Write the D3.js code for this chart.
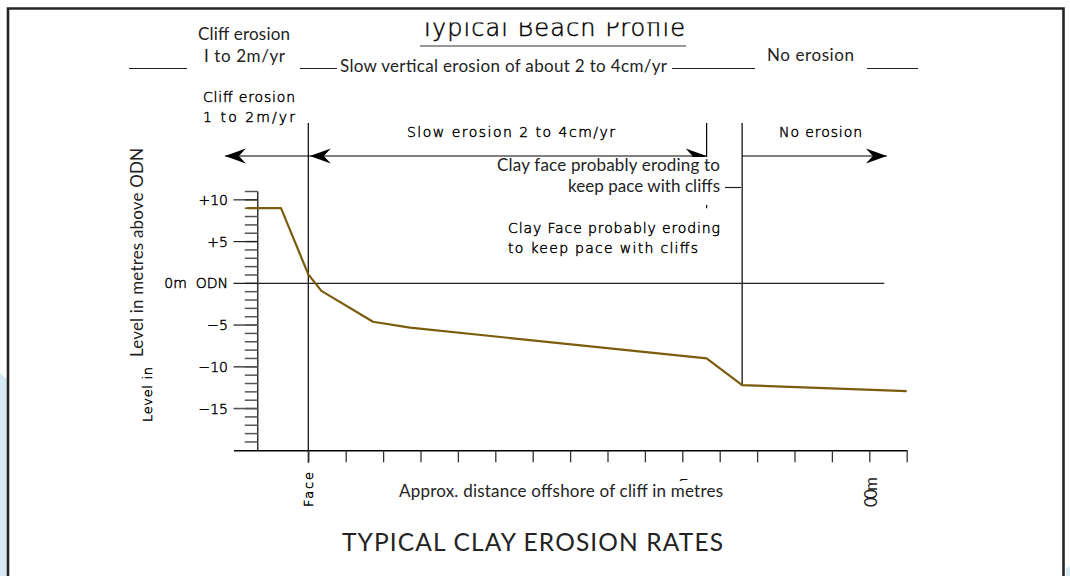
<!DOCTYPE html>
<html>
<head>
<meta charset="utf-8">
<script src="https://cdn.jsdelivr.net/npm/d3@7"></script>
<style>
  body { margin: 0; background: #fff; }
  svg { display: block; }
  .cad { font-family: "DejaVu Sans", sans-serif; font-weight: 200; fill: #000; stroke: #000; stroke-width: 0.45; }
  .gill { font-family: Lato, "Open Sans", sans-serif; fill: #232323; }
</style>
</head>
<body>
<div id="vis"></div>
<script>
// beach profile, distance in axis tick units (0 = cliff face), level in m above ODN
var distance = [-1.64, -0.73, 0.0, 0.35, 1.73, 2.72, 10.65, 11.6, 16.0];
var level    = [9.0, 9.0, 1.08, -0.9, -4.6, -5.3, -9.0, -12.2, -12.9];

var xTicks = [0, 1, 2, 3, 4, 5, 6, 7, 8, 9, 10, 11, 12, 13, 14, 15, 16];
var yMajor = [10, 5, 0, -5, -10, -15];
var yMajorLabels = ['+10', '+5', '0m  ODN', '\u22125', '\u221210', '\u221215'];
var yMinor = [11, 10, 9, 8, 7, 6, 5, 4, 3, 2, 1, 0, -1, -2, -3, -4, -5, -6, -7, -8, -9,
              -10, -11, -12, -13, -14, -15, -16, -17, -18, -19];

// zone boundaries (cliff face, clay face, start of no erosion)
var zoneEdges = [0, 10.65, 11.6];
var zoneTops = [19.2, 19.2, 19.2];
var zoneBottoms = [-21.5, 9.0, -12.2];

var width = 1070;
var height = 576;

var x = d3.scaleLinear().domain([-2, 16]).range([233.5, 906.7]);
var y = d3.scaleLinear().domain([-20, 11]).range([450.3, 191.5]);

var svg = d3.select('#vis')
    .append('svg')
    .attr('width', width)
    .attr('height', height);

// light blue bits outside the frame
svg.append('path')
    .attr('d', 'M0,373 L8,380 L8,576 L0,576 Z')
    .attr('fill', '#d5eaf3');
svg.append('path')
    .attr('d', 'M1066,569 L1070,566 L1070,576 L1066,576 Z')
    .attr('fill', '#d5eaf3');

// frame
svg.append('path')
    .attr('d', 'M8,580 L8,8.5 L1063.5,8.5 L1063.5,580')
    .attr('fill', 'none')
    .attr('stroke', '#262626')
    .attr('stroke-width', 2.6);

// ---------- CAD drawing layer ----------
var cad = svg.append('g');

// title, top half cut off
svg.append('clipPath').attr('id', 'titleClip')
  .append('rect').attr('x', 300).attr('y', 22.5).attr('width', 500).attr('height', 40);
cad.append('text')
    .attr('class', 'cad')
    .attr('clip-path', 'url(#titleClip)')
    .attr('x', 420).attr('y', 35.5)
    .attr('font-size', 24)
    .attr('stroke-width', 0.3)
    .attr('textLength', 265)
    .attr('lengthAdjust', 'spacing')
    .text('Typical Beach Profile');
cad.append('line')
    .attr('x1', 420).attr('x2', 686).attr('y1', 46).attr('y2', 46)
    .attr('stroke', '#333').attr('stroke-width', 1.2);

function cadText(str, tx, ty, len) {
  cad.append('text')
      .attr('class', 'cad')
      .attr('x', tx).attr('y', ty)
      .attr('font-size', 14)
      .attr('textLength', len)
      .attr('lengthAdjust', 'spacing')
      .text(str);
}
cadText('Cliff erosion', 203, 101.5, 92);
cadText('1 to 2m/yr', 203, 121.5, 92);
cadText('Slow erosion 2 to 4cm/yr', 407, 137, 208);
cadText('No erosion', 779, 137, 83);
cadText('Clay Face probably eroding', 508, 233, 212);
cadText('to keep pace with cliffs', 508, 252.5, 190);

// zone boundary lines
cad.selectAll('.zone')
    .data(zoneEdges)
  .enter().append('line')
    .attr('x1', d => x(d)).attr('x2', d => x(d))
    .attr('y1', (d, i) => y(zoneTops[i]))
    .attr('y2', (d, i) => y(zoneBottoms[i]))
    .attr('stroke', '#000').attr('stroke-width', 1.2);

// arrows along the erosion rows
var arrowLevel = 15.25;
function arrowHead(tip, dir) {
  var ty = y(arrowLevel);
  var p = d3.path();
  p.moveTo(tip, ty);
  p.lineTo(tip - dir * 21, ty - 7.5);
  p.lineTo(tip - dir * 14, ty);
  p.lineTo(tip - dir * 21, ty + 7.5);
  p.closePath();
  cad.append('path').attr('d', p.toString()).attr('fill', '#000');
}
cad.append('line')
    .attr('x1', x(-2.23)).attr('x2', x(10.65))
    .attr('y1', y(arrowLevel)).attr('y2', y(arrowLevel))
    .attr('stroke', '#000').attr('stroke-width', 1.2);
cad.append('line')
    .attr('x1', x(11.6)).attr('x2', x(15.47))
    .attr('y1', y(arrowLevel)).attr('y2', y(arrowLevel))
    .attr('stroke', '#000').attr('stroke-width', 1.2);
arrowHead(x(-2.23), -1);
arrowHead(x(0) + 1.5, -1);
arrowHead(x(10.65), 1);
arrowHead(x(15.47), 1);

// y axis with major / minor ticks
cad.append('line')
    .attr('x1', x(-1.35)).attr('x2', x(-1.35))
    .attr('y1', y(11)).attr('y2', y(-20))
    .attr('stroke', '#000').attr('stroke-width', 1.2);
cad.selectAll('.minor')
    .data(yMinor)
  .enter().append('line')
    .attr('x1', x(-1.35) - 13).attr('x2', x(-1.35))
    .attr('y1', d => y(d)).attr('y2', d => y(d))
    .attr('stroke', '#555').attr('stroke-width', 1.5);
cad.selectAll('.major')
    .data(yMajor)
  .enter().append('line')
    .attr('x1', x(-2)).attr('x2', d => d === 0 ? x(15.4) : x(-1.35))
    .attr('y1', d => y(d)).attr('y2', d => y(d))
    .attr('stroke', (d) => d < 0 ? '#555' : '#222')
    .attr('stroke-width', d => d < 0 ? 1.6 : 1.2);
cad.selectAll('.ylab')
    .data(yMajor)
  .enter().append('text')
    .attr('class', 'cad')
    .attr('x', 228).attr('y', d => y(d) + 5)
    .attr('text-anchor', 'end')
    .attr('font-size', 14)
    .attr('xml:space', 'preserve')
    .text((d, i) => yMajorLabels[i]);

// x axis
var xAxis = d3.axisBottom(x)
    .tickValues(xTicks)
    .tickSize(12)
    .tickSizeOuter(0)
    .tickFormat('');
var xg = cad.append('g')
    .attr('transform', 'translate(0,' + y(-20) + ')')
    .call(xAxis);
xg.select('.domain').attr('stroke', '#000').attr('stroke-width', 1.4);
xg.selectAll('.tick line').attr('stroke', '#333').attr('stroke-width', 1.3);

// rotated CAD labels under the axis
cad.append('text')
    .attr('class', 'cad')
    .attr('transform', 'translate(' + (x(0) + 5) + ',472) rotate(-90)')
    .attr('text-anchor', 'end')
    .attr('font-size', 13)
    .attr('textLength', 35)
    .text('Face');
cad.append('text')
    .attr('class', 'cad')
    .attr('transform', 'translate(' + (x(10) + 5) + ',477.7) rotate(-90)')
    .attr('text-anchor', 'end')
    .attr('font-size', 13)
    .text('00m');

// CAD y label, the rest is hidden under the overlay
cad.append('text')
    .attr('class', 'cad')
    .attr('transform', 'translate(152,422) rotate(-90)')
    .attr('font-size', 13)
    .attr('textLength', 55)
    .attr('lengthAdjust', 'spacing')
    .text('Level in');

// profile line
var line = d3.line()
    .x(d => x(d[0]))
    .y(d => y(d[1]));
cad.append('path')
    .datum(distance.map((d, i) => [d, level[i]]))
    .attr('d', line)
    .attr('fill', 'none')
    .attr('stroke', '#7a5c0c')
    .attr('stroke-width', 2.2)
    .attr('stroke-linejoin', 'round');

// ---------- overlaid labels (white boxes hide the CAD text beneath) ----------
var over = svg.append('g');
function mask(bx, by, bw, bh) {
  over.append('rect')
      .attr('x', bx).attr('y', by).attr('width', bw).attr('height', bh)
      .attr('fill', '#fff');
}
mask(490, 157, 251, 48);
mask(124, 140, 32, 223);
mask(395, 481, 333, 26);

function gill(str, tx, ty, size, len, anchor) {
  over.append('text')
      .attr('class', 'gill')
      .attr('x', tx).attr('y', ty)
      .attr('font-size', size)
      .attr('text-anchor', anchor || 'start')
      .attr('textLength', len)
      .attr('lengthAdjust', 'spacing')
      .text(str);
}
gill('Cliff erosion', 198, 40, 17, 92);
gill('I to 2m/yr', 204, 62, 17, 81);
gill('Slow vertical erosion of about 2 to 4cm/yr', 340, 72, 17, 327);
gill('No erosion', 767, 61, 17, 87);
gill('Clay face probably eroding to', 720, 171, 17, 223, 'end');
gill('keep pace with cliffs', 720, 192, 17, 152, 'end');
gill('Approx. distance offshore of cliff in metres', 399, 497, 17, 324);
gill('TYPICAL CLAY EROSION RATES', 342, 551, 24.5, 381);

over.append('text')
    .attr('class', 'gill')
    .attr('transform', 'translate(143,357) rotate(-90)')
    .attr('font-size', 17)
    .attr('textLength', 209)
    .attr('lengthAdjust', 'spacing')
    .text('Level in metres above ODN');
over.append('text')
    .attr('class', 'gill')
    .attr('transform', 'translate(877,507) rotate(-90)')
    .attr('font-size', 17)
    .attr('textLength', 30)
    .text('00m');

// leader lines beside the labels
var leaders = [[129, 187, 68.5], [300, 337, 68.5], [672, 755, 68.5], [867, 918, 68.5], [725, 741, 187.5]];
over.selectAll('.leader')
    .data(leaders)
  .enter().append('line')
    .attr('x1', d => d[0]).attr('x2', d => d[1])
    .attr('y1', d => d[2]).attr('y2', d => d[2])
    .attr('stroke', '#222').attr('stroke-width', 1.2);
</script>
</body>
</html>
